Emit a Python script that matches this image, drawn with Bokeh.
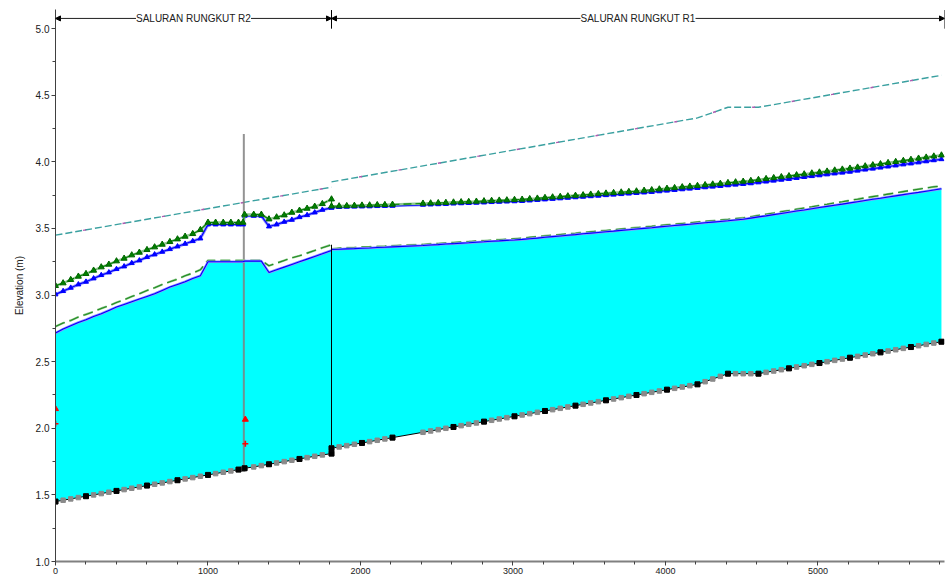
from bokeh.plotting import figure
from bokeh.models import Range1d, SingleIntervalTicker, NumeralTickFormatter, Arrow, NormalHead, Label
from bokeh.embed import file_html
from bokeh.resources import INLINE

# ---------------- data ----------------
# Reach SALURAN RUNGKUT R2 (downstream reach)
r2_station = [0, 50, 100, 150, 200, 250, 300, 350, 400, 450, 500, 550, 600, 650, 700, 750, 800, 850, 900, 950,
              1000, 1050, 1100, 1150, 1200, 1230, 1240, 1300, 1350, 1400, 1450, 1500, 1550, 1600, 1650, 1700, 1750, 1810]
r2_bed = [1.45, 1.46, 1.47, 1.48, 1.49, 1.50, 1.51, 1.52, 1.53, 1.54, 1.55, 1.56, 1.57, 1.58, 1.59, 1.60, 1.61, 1.62, 1.63, 1.64,
          1.65, 1.66, 1.67, 1.68, 1.69, 1.695, 1.70, 1.71, 1.72, 1.73, 1.74, 1.75, 1.76, 1.77, 1.78, 1.79, 1.80, 1.81]
r2_ws_up = [3.005, 3.03, 3.055, 3.08, 3.10, 3.125, 3.15, 3.17, 3.195, 3.215, 3.24, 3.26, 3.285, 3.305, 3.325, 3.345, 3.365, 3.385, 3.405, 3.425,
            3.53, 3.53, 3.53, 3.53, 3.53, 3.53, 3.595, 3.595, 3.595, 3.515, 3.53, 3.55, 3.565, 3.585, 3.60, 3.62, 3.64, 3.655]
r2_eg_up = [3.07, 3.09, 3.115, 3.14, 3.16, 3.185, 3.21, 3.23, 3.255, 3.275, 3.30, 3.32, 3.34, 3.36, 3.38, 3.40, 3.42, 3.44, 3.46, 3.49,
            3.545, 3.545, 3.545, 3.545, 3.545, 3.545, 3.605, 3.605, 3.605, 3.57, 3.585, 3.60, 3.62, 3.635, 3.65, 3.665, 3.685, 3.72]
r2_ws_low = [2.715, 2.745, 2.77, 2.795, 2.815, 2.84, 2.86, 2.885, 2.91, 2.93, 2.95, 2.97, 2.99, 3.01, 3.035, 3.06, 3.08, 3.10, 3.125, 3.145,
             3.25, 3.25, 3.25, 3.25, 3.25, 3.25, 3.255, 3.255, 3.255, 3.17, 3.19, 3.21, 3.23, 3.25, 3.27, 3.29, 3.31, 3.335]
r2_eg_low = [2.765, 2.79, 2.81, 2.835, 2.855, 2.875, 2.90, 2.92, 2.945, 2.965, 2.99, 3.01, 3.035, 3.055, 3.08, 3.10, 3.12, 3.145, 3.165, 3.19,
             3.26, 3.26, 3.26, 3.26, 3.26, 3.26, 3.26, 3.26, 3.26, 3.22, 3.24, 3.26, 3.28, 3.295, 3.315, 3.335, 3.355, 3.378]

# Reach SALURAN RUNGKUT R1 (upstream reach)
r1_station = [1810, 1860, 1910, 1960, 2010, 2060, 2110, 2160, 2210,
              2410, 2460, 2510, 2560, 2610, 2660, 2710, 2760, 2810, 2860, 2910, 2960, 3010, 3060,
              3110, 3160, 3210, 3260, 3310, 3360, 3410, 3460, 3510, 3560, 3610, 3660, 3710, 3760, 3810, 3860, 3910,
              3960, 4010, 4060, 4110, 4160, 4210, 4260, 4310, 4360, 4410, 4460, 4510, 4560,
              4610, 4660, 4710, 4760, 4810, 4860, 4910, 4960, 5010, 5060, 5110, 5160, 5210,
              5260, 5310, 5360, 5410, 5460, 5510, 5560, 5610, 5660, 5710, 5760, 5810]
r1_bed = [1.85, 1.86, 1.87, 1.88, 1.89, 1.90, 1.91, 1.92, 1.93,
          1.97, 1.98, 1.99, 2.00, 2.01, 2.02, 2.03, 2.04, 2.05, 2.06, 2.07, 2.08, 2.09, 2.10,
          2.11, 2.12, 2.13, 2.14, 2.15, 2.16, 2.17, 2.18, 2.19, 2.20, 2.21, 2.22, 2.23, 2.24, 2.25, 2.26, 2.27,
          2.28, 2.29, 2.30, 2.31, 2.32, 2.33, 2.35, 2.37, 2.39, 2.41, 2.41, 2.41, 2.41,
          2.41, 2.42, 2.43, 2.44, 2.45, 2.46, 2.47, 2.48, 2.49, 2.50, 2.51, 2.52, 2.53,
          2.54, 2.55, 2.56, 2.57, 2.58, 2.59, 2.60, 2.61, 2.62, 2.63, 2.64, 2.65]
r1_ws_up = [3.660, 3.661, 3.663, 3.664, 3.665, 3.666, 3.668, 3.669, 3.670,
            3.678, 3.680, 3.682, 3.684, 3.687, 3.689, 3.691, 3.693, 3.695, 3.698, 3.700, 3.702, 3.704, 3.706,
            3.710, 3.714, 3.718, 3.722, 3.726, 3.730, 3.734, 3.738, 3.742, 3.746, 3.750, 3.754, 3.758, 3.762, 3.766, 3.770, 3.774,
            3.779, 3.784, 3.789, 3.794, 3.799, 3.804, 3.809, 3.814, 3.819, 3.824, 3.829, 3.834, 3.839,
            3.846, 3.852, 3.859, 3.866, 3.872, 3.879, 3.886, 3.893, 3.899, 3.906, 3.913, 3.919, 3.926,
            3.934, 3.942, 3.949, 3.957, 3.965, 3.973, 3.981, 3.988, 3.996, 4.004, 4.012, 4.020]
r1_eg_up = [3.667, 3.668, 3.670, 3.672, 3.674, 3.675, 3.677, 3.678, 3.680,
            3.688, 3.690, 3.692, 3.694, 3.697, 3.699, 3.701, 3.703, 3.706, 3.709, 3.711, 3.713, 3.716, 3.718,
            3.722, 3.726, 3.731, 3.735, 3.739, 3.743, 3.747, 3.751, 3.756, 3.760, 3.764, 3.768, 3.772, 3.776, 3.780, 3.785, 3.789,
            3.795, 3.800, 3.805, 3.811, 3.816, 3.821, 3.827, 3.832, 3.837, 3.843, 3.848, 3.853, 3.859,
            3.866, 3.873, 3.880, 3.887, 3.894, 3.901, 3.908, 3.915, 3.922, 3.929, 3.937, 3.944, 3.951,
            3.959, 3.968, 3.976, 3.984, 3.993, 4.001, 4.009, 4.017, 4.026, 4.034, 4.042, 4.050]
r1_ws_low = [3.342, 3.344, 3.347, 3.349, 3.352, 3.354, 3.357, 3.359, 3.362,
             3.372, 3.376, 3.379, 3.383, 3.386, 3.390, 3.393, 3.397, 3.400, 3.404, 3.407, 3.411, 3.414, 3.418,
             3.423, 3.428, 3.434, 3.439, 3.444, 3.449, 3.454, 3.460, 3.465, 3.470, 3.475, 3.480, 3.486, 3.491, 3.496, 3.501, 3.506,
             3.512, 3.517, 3.522, 3.527, 3.532, 3.538, 3.543, 3.548, 3.553, 3.558, 3.564, 3.569, 3.578,
             3.587, 3.595, 3.604, 3.613, 3.622, 3.631, 3.639, 3.648, 3.657, 3.666, 3.675, 3.683, 3.692,
             3.701, 3.710, 3.719, 3.727, 3.736, 3.745, 3.754, 3.763, 3.771, 3.780, 3.789, 3.798]
r1_eg_low = [3.345, 3.352, 3.355, 3.357, 3.360, 3.362, 3.365, 3.367, 3.370,
             3.380, 3.384, 3.387, 3.391, 3.394, 3.398, 3.401, 3.405, 3.408, 3.412, 3.415, 3.419, 3.423, 3.427,
             3.433, 3.438, 3.444, 3.449, 3.454, 3.459, 3.464, 3.470, 3.475, 3.480, 3.485, 3.490, 3.496, 3.501, 3.506, 3.511, 3.516,
             3.522, 3.527, 3.532, 3.537, 3.542, 3.548, 3.553, 3.558, 3.563, 3.568, 3.574, 3.579, 3.588,
             3.598, 3.607, 3.616, 3.626, 3.635, 3.645, 3.654, 3.663, 3.673, 3.682, 3.692, 3.701, 3.711,
             3.720, 3.730, 3.739, 3.748, 3.758, 3.767, 3.777, 3.786, 3.795, 3.804, 3.813, 3.818]

# surveyed cross sections (black squares)
xs_station = [0, 200, 400, 600, 800, 1000, 1200, 1240, 1400, 1600, 1810,
              1810, 2010, 2210, 2610, 2810, 3010, 3210, 3410, 3610, 3810, 4010, 4210, 4410, 4610, 4810, 5010, 5210, 5410, 5610, 5810]
xs_bed = [1.45, 1.49, 1.53, 1.57, 1.61, 1.65, 1.69, 1.70, 1.73, 1.77, 1.81,
          1.85, 1.89, 1.93, 2.01, 2.05, 2.09, 2.13, 2.17, 2.21, 2.25, 2.29, 2.33, 2.41, 2.41, 2.45, 2.49, 2.53, 2.57, 2.61, 2.65]

# bank / levee line (top dashed)
bank_r2_station = [0, 1810]
bank_r2_elev = [3.45, 3.81]
bank_r1_station = [1810, 4210, 4410, 4610, 5810]
bank_r1_elev = [3.85, 4.33, 4.41, 4.41, 4.65]

# critical depth markers
crit_up_station = [0, 1245]
crit_up_elev = [2.146, 2.066]
crit_low_station = [0, 1245]
crit_low_elev = [2.034, 1.884]

# inline structure
struct_station = [1235]
struct_bottom = [1.695]
struct_top = [4.21]

# junction
junction_station = [1810]
junction_bottom = [1.81]
junction_top = [3.378]

reach_names = ["SALURAN RUNGKUT R2", "SALURAN RUNGKUT R1"]
reach_start = [0, 1810]
reach_end = [1810, 5830]

FONT = "Liberation Sans"

# ---------------- figure ----------------
p = figure(width=952, height=581, x_range=Range1d(0, 5830), y_range=Range1d(1.0, 5.144),
           output_backend="svg", toolbar_location=None,
           min_border_left=55, min_border_right=8, min_border_top=9, min_border_bottom=20)
p.outline_line_color = None
p.xgrid.visible = False
p.ygrid.visible = False
p.background_fill_color = "white"
p.border_fill_color = "white"

# water fill of the lower profile
p.varea(x=r2_station, y1=r2_bed, y2=r2_ws_low, fill_color="#00ffff")
p.varea(x=r1_station, y1=r1_bed, y2=r1_ws_low, fill_color="#00ffff")

# bank lines
for xs, ys in ((bank_r2_station, bank_r2_elev), (bank_r1_station, bank_r1_elev)):
    p.line(xs, ys, line_color="#3aa0a0", line_width=1.4, line_dash="7 3")
    p.line(xs, ys, line_color="#b05ab0", line_width=1.4, line_dash="3 37", line_dash_offset=12)

# inline structure
p.segment(x0=struct_station, y0=struct_bottom, x1=struct_station, y1=struct_top,
          line_color="#808080", line_width=2, line_alpha=0.85)

# lower profile EG (dashed green) and WS (blue)
for xs, ys in ((r2_station, r2_eg_low), (r1_station, r1_eg_low)):
    p.line(xs, ys, line_color="#8cc88c", line_width=2.2, line_dash="10 5")
    p.line(xs, ys, line_color="#228b22", line_width=1.1, line_dash="10 5")
for xs, ys in ((r2_station, r2_ws_low), (r1_station, r1_ws_low)):
    p.line(xs, ys, line_color="#9090ff", line_width=2.5)
    p.line(xs, ys, line_color="#0000ff", line_width=1.1)

# junction vertical
p.segment(x0=junction_station, y0=junction_bottom, x1=junction_station, y1=junction_top,
          line_color="black", line_width=1)
p.segment(x0=[r2_station[-1]], y0=[r1_eg_up[0]], x1=[r2_station[-1]], y1=[r2_eg_up[-1]],
          line_color="#008000", line_width=1.2)

# upper profile WS (blue with triangles) and EG (green with triangles)
for xs, ys in ((r2_station, r2_ws_up), (r1_station, r1_ws_up)):
    p.line(xs, ys, line_color="#9090ff", line_width=3)
    p.line(xs, ys, line_color="#0000ff", line_width=1.2)
    p.scatter(xs, ys, marker="triangle", size=5, fill_color="#0000ff", line_color="#0000ff")
for xs, ys in ((r2_station, r2_eg_up), (r1_station, r1_eg_up)):
    p.line(xs, ys, line_color="#90c890", line_width=2.5)
    p.line(xs, ys, line_color="#008000", line_width=1.1, line_dash="8 4")
    p.scatter(xs, ys, marker="triangle", size=6, fill_color="#008000", line_color="#006400")

# channel bed
for xs, ys in ((r2_station, r2_bed), (r1_station, r1_bed)):
    p.line(xs, ys, line_color="black", line_width=1)
    p.scatter(xs, ys, marker="square", size=4.5, fill_color="#8a8a8a", line_color="#8a8a8a")
p.scatter(xs_station, xs_bed, marker="square", size=5, fill_color="black", line_color="black")

# critical depth
p.scatter(crit_up_station, crit_up_elev, marker="triangle", size=6, fill_color="red", line_color="red")
p.scatter(crit_low_station, crit_low_elev, marker="cross", size=6, line_color="#ff0000", line_width=1.6)

# reach identification arrows
y_reach = 5.077
for name, xs0, xs1 in zip(reach_names, reach_start, reach_end):
    p.add_layout(Arrow(x_start=xs0, y_start=y_reach, x_end=xs1, y_end=y_reach,
                       line_color="#202020", line_width=1,
                       start=NormalHead(size=5, fill_color="black", line_color="black"),
                       end=NormalHead(size=5, fill_color="black", line_color="black")))
    p.add_layout(Label(x=(xs0 + xs1) / 2, y=y_reach, text=name, text_align="center",
                       text_baseline="middle", text_font=FONT, text_font_size="10px",
                       text_color="#202020", background_fill_color="white"))
p.segment(x0=[1810, 5830], y0=[5.0, 5.0], x1=[1810, 5830], y1=[5.14, 5.14],
          line_color="black", line_width=1)

# axes
p.xaxis.ticker = SingleIntervalTicker(interval=1000, num_minor_ticks=5)
p.yaxis.ticker = SingleIntervalTicker(interval=0.5, num_minor_ticks=2)
p.yaxis.formatter = NumeralTickFormatter(format="0.0")
for ax in (p.xaxis[0], p.yaxis[0]):
    ax.major_tick_in = 0
    ax.minor_tick_in = 0
    ax.major_tick_out = 4
    ax.minor_tick_out = 3
    ax.major_tick_line_color = "#404040"
    ax.minor_tick_line_color = "#404040"
    ax.major_label_text_font = FONT
    ax.major_label_text_color = "#202020"
    ax.major_label_standoff = 2
p.xaxis.axis_line_color = "#808080"
p.xaxis.axis_line_width = 2
p.xaxis.major_label_text_font_size = "9px"
p.yaxis.axis_line_color = "#404040"
p.yaxis.major_label_text_font_size = "10px"
p.yaxis.axis_label = "Elevation (m)"
p.yaxis.axis_label_text_font = FONT
p.yaxis.axis_label_text_font_size = "10px"
p.yaxis.axis_label_text_font_style = "normal"
p.yaxis.axis_label_text_color = "#202020"
p.yaxis.axis_label_standoff = 8

open("out.html", "w").write(file_html(p, INLINE))
